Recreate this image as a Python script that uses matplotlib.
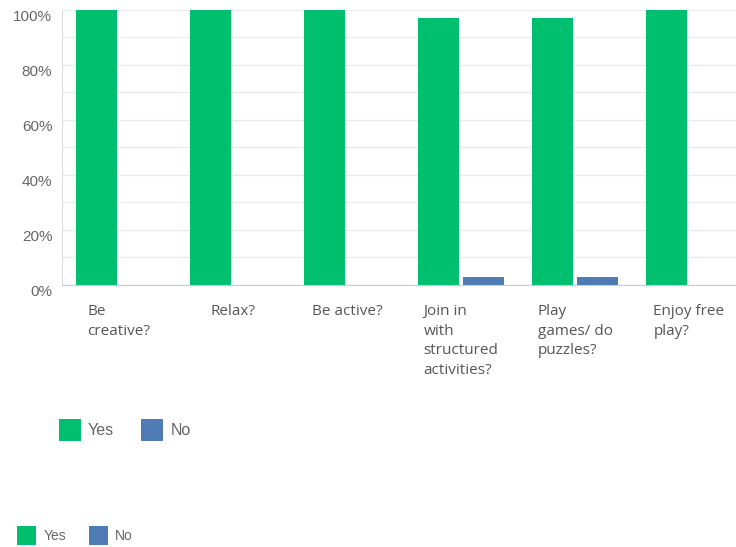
import matplotlib
matplotlib.use("Agg")
from matplotlib import pyplot
from matplotlib.ticker import MultipleLocator
from numpy import arange

categories = [
    "Be\ncreative?",
    "Relax?",
    "Be active?",
    "Join in\nwith\nstructured\nactivities?",
    "Play\ngames/ do\npuzzles?",
    "Enjoy free\nplay?",
]
yes_values = [100, 100, 100, 97.2, 97.2, 100]
no_values = [0, 0, 0, 2.8, 2.8, 0]
y_ticks = [0, 20, 40, 60, 80, 100]
series_names = ["Yes", "No"]

green = "#00bf6f"
blue = "#507cb6"

fig = pyplot.figure(figsize=(7.36, 5.47), dpi=100)
ax = fig.add_axes([62 / 736, 1 - 284.5 / 547, 684 / 736, 274.5 / 547])

x = arange(len(categories))
w = 0.36
off = 0.1975
bars_yes = ax.bar(x - off, yes_values, width=w, color=green, zorder=3)
bars_no = ax.bar(x + off, no_values, width=w, color=blue, zorder=3)

ax.set_xlim(-0.5, len(categories) - 0.5)
ax.set_ylim(0, 100)
ax.set_yticks(y_ticks)
# labels hang just below their gridlines in the original
ax.set_yticklabels([f"{v}%" for v in y_ticks], family="Liberation Sans",
                   fontsize=11, color="#666666", va="top")
ax.yaxis.set_minor_locator(MultipleLocator(10))
ax.grid(axis="y", which="both", color="#ebebeb", linewidth=1, zorder=0)

ax.set_xticks(x)
ax.set_xticklabels(categories, family="Open Sans", fontsize=11,
                   color="#555555", ha="center", multialignment="left",
                   linespacing=1.42)
ax.tick_params(axis="x", length=0, pad=14)
ax.tick_params(axis="y", which="both", length=0, pad=7)

for side in ["top", "right"]:
    ax.spines[side].set_visible(False)
ax.spines["left"].set_color("#dcdcdc")
ax.spines["bottom"].set_color("#cccccc")

fig.legend(
    [bars_yes, bars_no], series_names,
    loc="upper left", bbox_to_anchor=(59 / 736, 1 - 419 / 547),
    ncol=2, frameon=False,
    prop={"family": "Liberation Sans", "size": 11.5},
    labelcolor="#666666",
    handlelength=1.38, handleheight=1.74,
    handletextpad=0.44, columnspacing=1.69,
    borderpad=0, borderaxespad=0,
)
fig.legend(
    [bars_yes, bars_no], series_names,
    loc="upper left", bbox_to_anchor=(17 / 736, 1 - 526 / 547),
    ncol=2, frameon=False,
    prop={"family": "Liberation Sans", "size": 10},
    labelcolor="#666666",
    handlelength=1.40, handleheight=1.78,
    handletextpad=0.5, columnspacing=1.65,
    borderpad=0, borderaxespad=0,
)

pyplot.savefig("out.png", dpi=100)
